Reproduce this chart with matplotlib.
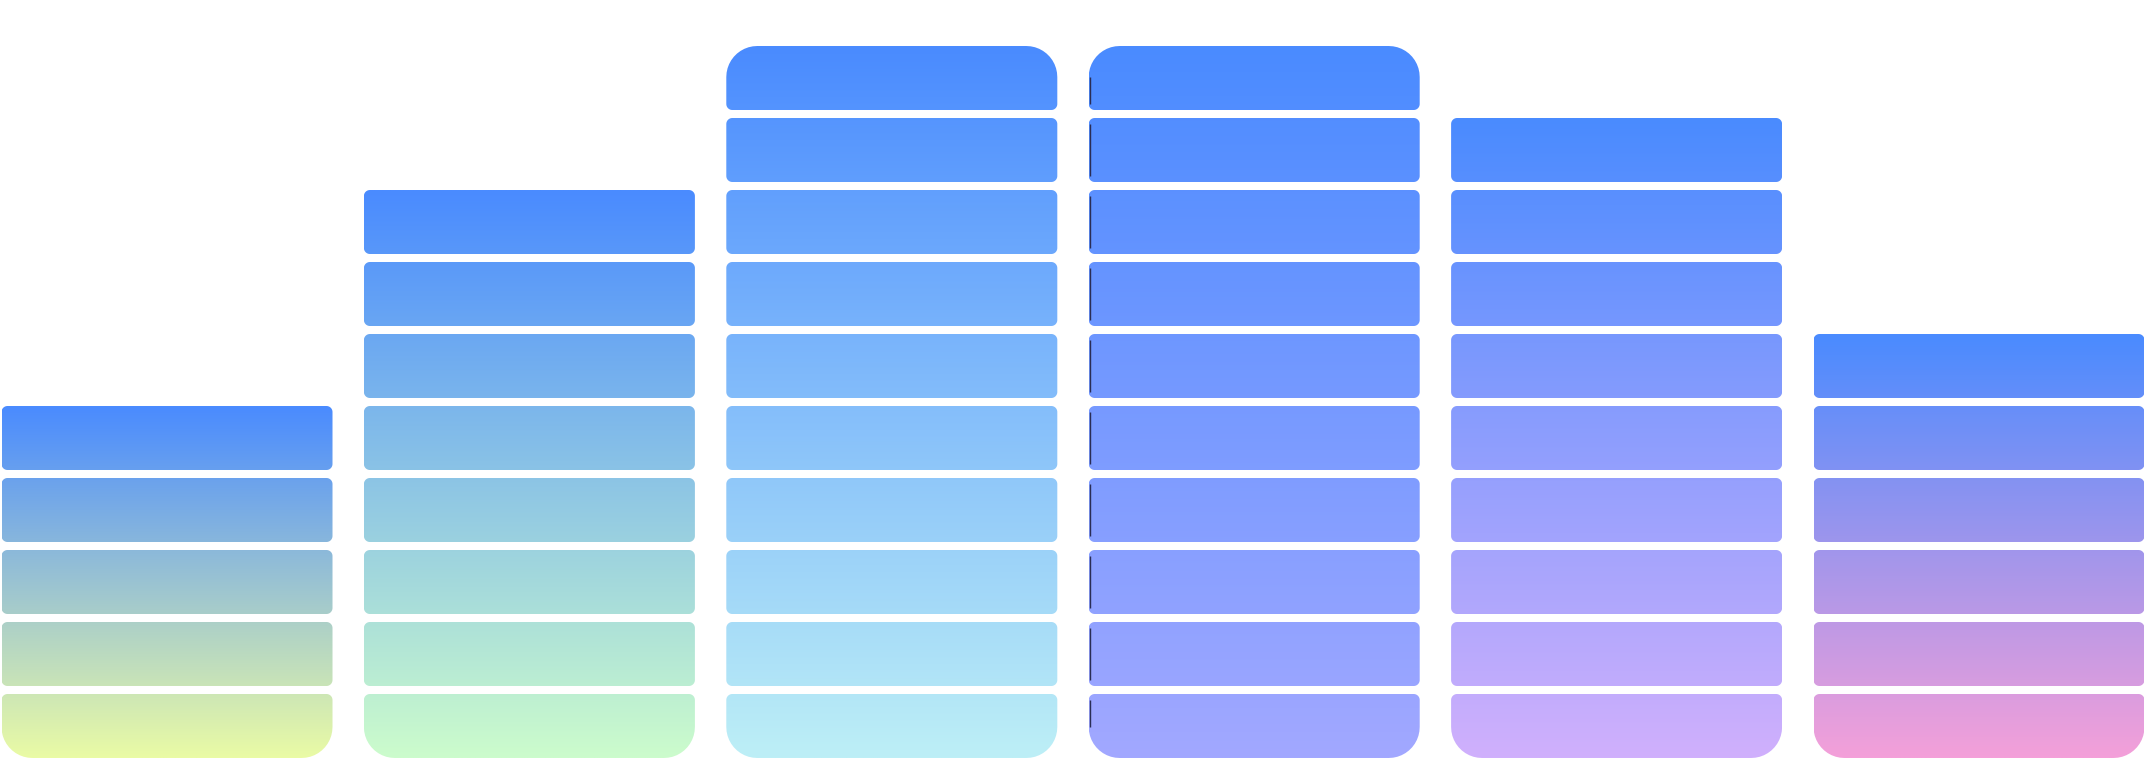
import matplotlib
matplotlib.use("Agg")
import matplotlib.pyplot as plt
import numpy as np
from matplotlib.path import Path
from matplotlib.patches import PathPatch
from matplotlib.colors import to_rgb

# data
categories = ['A', 'B', 'C', 'D', 'E', 'F']
values = [5, 8, 10, 10, 9, 6]          # number of lit segments per column
max_value = 10
top_color = '#4A8BFF'
bottom_colors = ['#EAFBA5', '#CCFCCC', '#BDEFF6', '#A2A8FF', '#D0B0FC', '#F4A0D9']

W, H = 2144, 758
fig = plt.figure(figsize=(W / 100, H / 100), dpi=100)
ax = fig.add_axes([0, 0, 1, 1])
ax.axis('off')

pitch_px = 362.4     # column spacing in pixels
row_px = 72.0        # segment spacing in pixels
ax.set_xlim(-167 / pitch_px, (W - 167) / pitch_px)
ax.set_ylim(0, H / row_px)

bar_w = 331 / pitch_px
seg_h = 64 / row_px
r_small, r_big = 6, 31   # corner radii in px


def corner(cx, cy, rx, ry, a0, a1, n=12):
    a = np.linspace(a0, a1, n)
    return list(zip(cx + rx * np.cos(a), cy + ry * np.sin(a)))


def rrect(x0, y0, x1, y1, rb, rt):
    # rb/rt: bottom and top radius in px
    bx, by = rb / pitch_px, rb / row_px
    tx, ty = rt / pitch_px, rt / row_px
    pts = []
    pts += corner(x0 + bx, y0 + by, bx, by, np.pi, 1.5 * np.pi)
    pts += corner(x1 - bx, y0 + by, bx, by, 1.5 * np.pi, 2 * np.pi)
    pts += corner(x1 - tx, y1 - ty, tx, ty, 0, 0.5 * np.pi)
    pts += corner(x0 + tx, y1 - ty, tx, ty, 0.5 * np.pi, np.pi)
    pts.append(pts[0])
    codes = [Path.MOVETO] + [Path.LINETO] * (len(pts) - 2) + [Path.CLOSEPOLY]
    return pts, codes


c_top = np.array(to_rgb(top_color))
for i, (n, cb) in enumerate(zip(values, bottom_colors)):
    x0, x1 = i - bar_w / 2, i + bar_w / 2
    verts, codes = [], []
    for k in range(n):
        rb = r_big if k == 0 else r_small
        rt = r_big if k == max_value - 1 else r_small
        v, c = rrect(x0, k, x1, k + seg_h, rb, rt)
        verts += v
        codes += c
    clip = PathPatch(Path(verts, codes), facecolor='none', edgecolor='none')
    ax.add_patch(clip)

    top = n - 1 + seg_h
    t = np.linspace(0, 1, 256)[:, None, None]
    grad = np.array(to_rgb(cb)) * (1 - t) + c_top * t
    grad = np.repeat(grad, 2, axis=1)
    im = ax.imshow(grad, extent=[x0, x1, 0, top], origin='lower',
                   aspect='auto', interpolation='bilinear', zorder=1)
    im.set_clip_path(clip)

    if i == 3:
        # thin dark edge on the left side of this column
        lx = x0 + 0.8 / pitch_px
        for k in range(n):
            lo = k + (r_big if k == 0 else r_small) / row_px
            hi = k + seg_h - (r_big if k == max_value - 1 else r_small) / row_px
            ax.plot([lx, lx], [lo, hi], color='#2a2d55', lw=1.0,
                    solid_capstyle='butt', zorder=2)

ax.set_xlim(-167 / pitch_px, (W - 167) / pitch_px)
ax.set_ylim(0, H / row_px)
fig.savefig('out.png', dpi=100, facecolor='white')
